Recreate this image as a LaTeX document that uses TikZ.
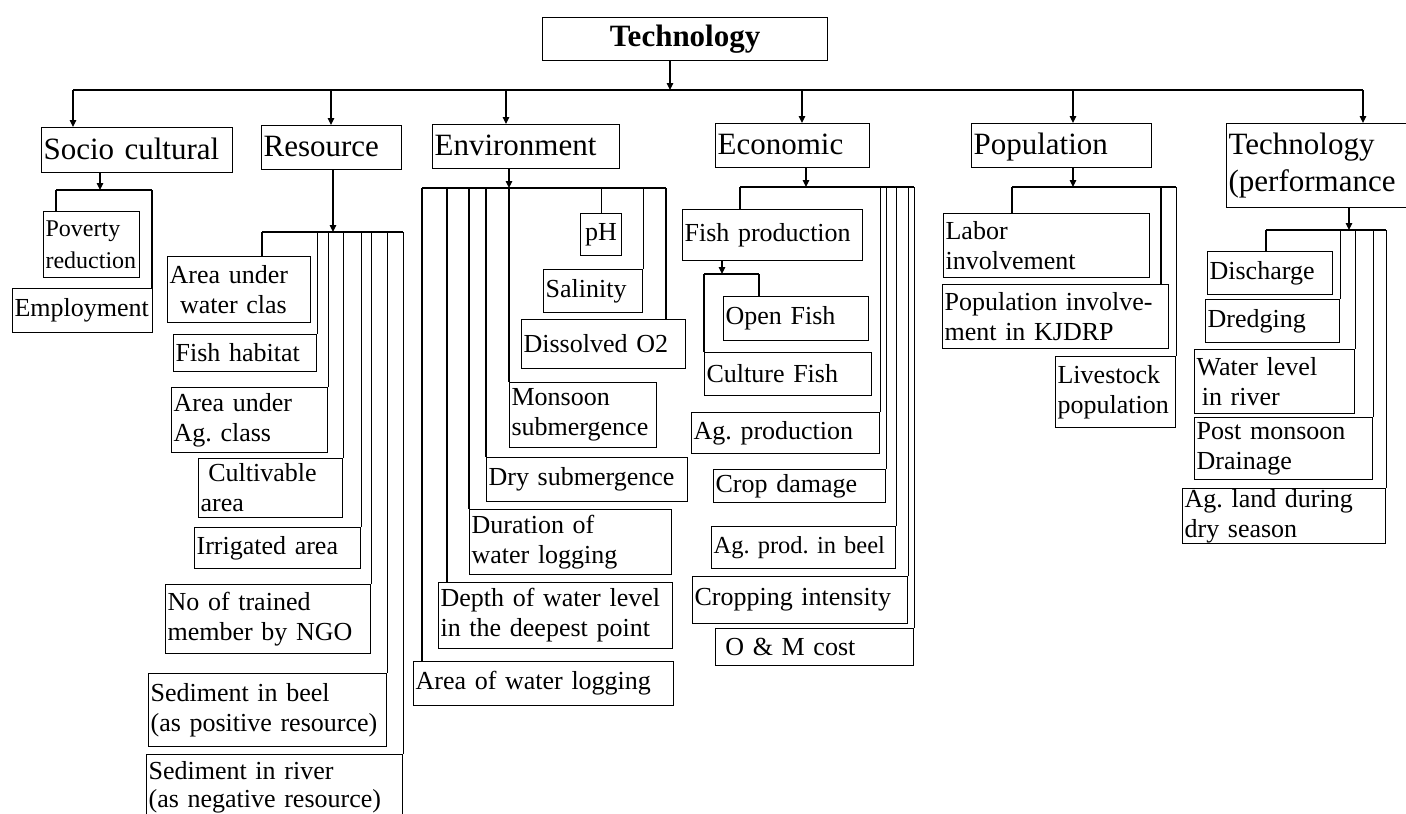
\documentclass[tikz,border=0pt]{standalone}
\usepackage{fontspec}
\setmainfont{Liberation Serif}
\usetikzlibrary{arrows.meta}
\newcommand\mybox[7][]{%
  \pgfmathsetmacro\bxw{#5-#3}%
  \pgfmathsetmacro\bxh{#6-#4}%
  \pgfmathsetmacro\bxt{#5-#3-4}%
  \node[bx,#1,minimum width=\bxw pt,minimum height=\bxh pt,text width=\bxt pt] (#2) at (#3,#4) {#7};}
\newcommand\cst{\rule[-8pt]{0pt}{34pt}}
\begin{document}
\begin{tikzpicture}[x=1pt,y=-1pt,
  bx/.style={draw,line width=1.2pt,anchor=north west,inner xsep=2pt,inner ysep=0pt,align=left,font=\frenchspacing\fontsize{26}{30}\selectfont},
  cat/.style={font=\frenchspacing\fontsize{31}{34}\selectfont},
  small/.style={font=\frenchspacing\fontsize{24}{32}\selectfont},
  ln/.style={line width=1.2pt},
  arr/.style={line width=1.2pt,-{Triangle[length=7pt,width=6.5pt]}}]
\useasboundingbox (0,0) rectangle (1406,814);

% ---------- boxes ----------
\mybox[font=\bfseries\fontsize{31}{34}\selectfont,align=center]{tech}{542}{17}{827}{60}{Technology}

\mybox[cat]{socio}{41}{127}{232}{172}{\cst Socio cultural}
\mybox[cat]{res}{261}{125}{401}{169}{\cst Resource}
\mybox[cat]{env}{432}{124}{619}{168}{\cst Environment}
\mybox[cat]{eco}{715}{123}{869}{167}{\cst Economic}
\mybox[cat]{pop}{971}{123}{1151}{167}{\cst Population}
\mybox[font=\frenchspacing\fontsize{31}{37}\selectfont]{tp}{1226}{123}{1412}{207}{Technology\\(performance}

% socio cultural
\mybox[small]{pov}{43}{211}{139}{277}{Poverty\\reduction}
\mybox{emp}{12}{288}{152}{332}{Employment}

% resource
\mybox{aw}{167}{256}{310}{322}{Area under\\\hspace*{0.4em}water clas}
\mybox{fh}{173}{334}{316}{371}{Fish habitat}
\mybox{aa}{171}{387}{327}{452}{Area under\\Ag. class}
\mybox{ca}{198}{458}{342}{517}{\hspace*{0.3em}Cultivable\\area}
\mybox{ia}{194}{527}{360}{568}{Irrigated area}
\mybox{nt}{165}{584}{370}{653}{No of trained\\member by NGO}
\mybox{sb}{148}{673}{386}{746}{Sediment in beel\\(as positive resource)}
\mybox[font=\frenchspacing\fontsize{26}{28}\selectfont]{sr}{146}{754}{402}{820}{Sediment in river\\(as negative resource)}

% environment
\mybox[align=center]{ph}{580}{213}{621}{255}{pH}
\mybox{sal}{543}{269}{642}{312}{Salinity}
\mybox{do}{521}{319}{685}{368}{Dissolved O2}
\mybox{ms}{509}{382}{656}{447}{Monsoon\\submergence}
\mybox{ds}{486}{457}{687}{501}{Dry submergence}
\mybox{dw}{469}{509}{671}{574}{Duration of\\water logging}
\mybox{dp}{438}{582}{672}{648}{Depth of water level\\in the deepest point}
\mybox{awl}{413}{661}{673}{705}{Area of water logging}

% economic
\mybox{fp}{682}{209}{862}{260}{Fish production}
\mybox{of}{723}{296}{868}{340}{Open Fish}
\mybox{cf}{704}{352}{871}{395}{Culture Fish}
\mybox{agp}{691}{412}{879}{453}{Ag. production}
\mybox{cd}{713}{469}{885}{502}{Crop damage}
\mybox[font=\frenchspacing\fontsize{24.5}{30}\selectfont]{apb}{711}{526}{895}{568}{\mbox{Ag. prod. in beel}}
\mybox{ci}{692}{576}{907}{623}{Cropping intensity}
\mybox{om}{715}{628}{913}{665}{\hspace*{0.3em}O \& M cost}

% population
\mybox{lab}{943}{213}{1149}{277}{Labor\\involvement}
\mybox{pin}{942}{284}{1168}{348}{Population involve-\\ment in KJDRP}
\mybox{liv}{1055}{356}{1175}{427}{Livestock\\population}

% technology (performance)
\mybox{dis}{1207}{251}{1332}{294}{Discharge}
\mybox{dre}{1205}{299}{1339}{342}{Dredging}
\mybox{wl}{1194}{349}{1354}{413}{Water level\\\hspace*{0.2em}in river}
\mybox{pmd}{1194}{417}{1372}{479}{Post monsoon\\Drainage}
\mybox{ag}{1182}{488}{1385}{543}{Ag. land during\\dry season}

% ---------- connectors ----------
% top bus
\coordinate (busL) at (73,90);
\coordinate (busR) at (1363,90);
\coordinate (busT) at (670,90);
\draw[ln] (busL) -- (busR);
\draw[arr] (busT |- tech.south) -- (busT);
\foreach \n/\x in {socio/73,res/331,env/506,eco/802,pop/1073,tp/1363}{
  \coordinate (t-\n) at (\x,90);
  \draw[arr] (t-\n) -- (t-\n |- \n.north);}

% socio cultural
\coordinate (sL) at (56,190);
\coordinate (sR) at (152,190);
\coordinate (sA) at (100,190);
\draw[ln] (sL) -- (sR);
\draw[arr] (sA |- socio.south) -- (sA);
\draw[ln] (sL) -- (sL |- pov.north);
\draw[ln] (sR) -- (sR |- emp.north);

% resource
\coordinate (rL) at (262,232);
\coordinate (rA) at (333,232);
\draw[ln] (rL) -- (rL -| sr.north east);
\draw[arr] (rA |- res.south) -- (rA);
\draw[ln] (rL) -- (rL |- aw.north);
\foreach \n in {fh,aa,ca,ia,nt,sb,sr}
  \draw[ln] (rL -| \n.north east) -- (\n.north east);

% environment
\coordinate (eL) at (422,188);
\coordinate (eR) at (666,188);
\coordinate (eA) at (509,188);
\coordinate (eD) at (447,188);
\draw[ln] (eL) -- (eR);
\draw[arr] (eA |- env.south) -- (eA);
\draw[ln] (eL) -- (eL |- awl.north);
\draw[ln] (eD) -- (eD |- dp.north);
\foreach \n in {dw,ds,ms}
  \draw[ln] (eL -| \n.north west) -- (\n.north west);
\draw[ln] (eL -| ph.north) -- (ph.north);
\draw[ln] (eL -| sal.north east) -- (sal.north east);
\draw[ln] (eR) -- (eR |- do.north);

% economic
\coordinate (cL) at (740,187);
\coordinate (cA) at (806,187);
\draw[ln] (cL) -- (cL -| om.north east);
\draw[arr] (cA |- eco.south) -- (cA);
\draw[ln] (cL) -- (cL |- fp.north);
\foreach \n in {agp,cd,apb,ci,om}
  \draw[ln] (cL -| \n.north east) -- (\n.north east);
\coordinate (fL) at (704,274);
\coordinate (fR) at (759,274);
\coordinate (fA) at (722,274);
\draw[ln] (fL) -- (fR);
\draw[arr] (fA |- fp.south) -- (fA);
\draw[ln] (fR) -- (fR |- of.north);
\draw[ln] (fL) -- (cf.north west);

% population
\coordinate (pL) at (1012,187);
\coordinate (pA) at (1073,187);
\coordinate (pM) at (1161,187);
\draw[ln] (pL) -- (pL -| liv.north east);
\draw[arr] (pA |- pop.south) -- (pA);
\draw[ln] (pL) -- (pL |- lab.north);
\draw[ln] (pM) -- (pM |- pin.north);
\draw[ln] (pL -| liv.north east) -- (liv.north east);

% technology (performance)
\coordinate (qL) at (1266,230);
\coordinate (qA) at (1349,230);
\draw[ln] (qL) -- (qL -| ag.north east);
\draw[arr] (qA |- tp.south) -- (qA);
\draw[ln] (qL) -- (qL |- dis.north);
\foreach \n in {dre,wl,pmd,ag}
  \draw[ln] (qL -| \n.north east) -- (\n.north east);
\end{tikzpicture}
\end{document}
